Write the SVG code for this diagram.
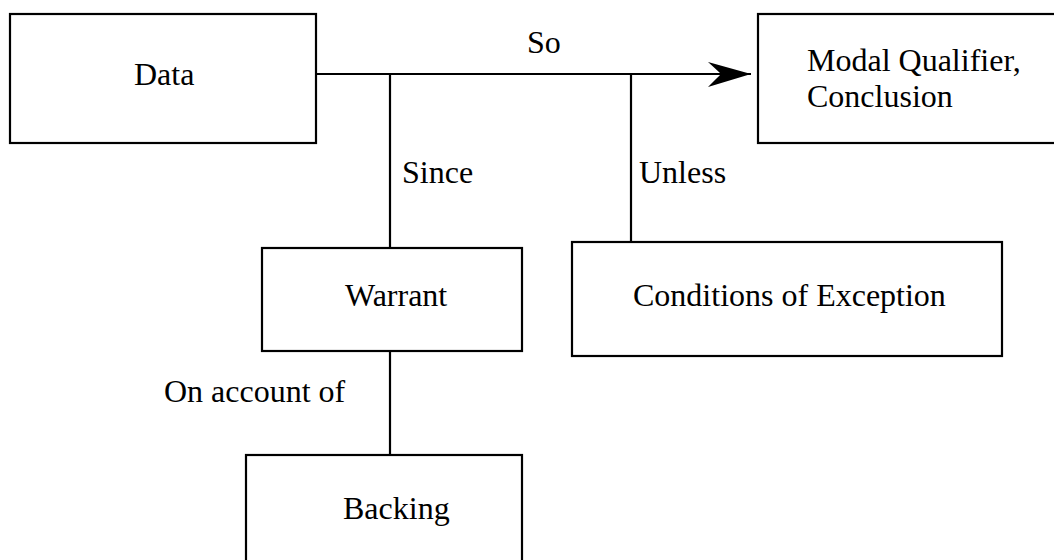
<svg xmlns="http://www.w3.org/2000/svg" width="1054" height="560" viewBox="0 0 1054 560">
<style>
.box{fill:#fff;stroke:#000;stroke-width:2.2}
.ln{fill:none;stroke:#000;stroke-width:2.2}
text{font-family:"Liberation Serif","Times New Roman",serif;font-size:32px;fill:#000}
</style>
<defs>
<marker id="arr" markerUnits="userSpaceOnUse" markerWidth="50" markerHeight="30" refX="43" refY="15" orient="auto">
<path d="M0,3 Q10,12 13,15 Q10,18 0,28 L43,15 Z" fill="#000"/>
</marker>
</defs>
<rect width="1054" height="560" fill="#fff"/>
<g id="connectors">
<path class="ln" d="M316,74 H751" marker-end="url(#arr)"/>
<path class="ln" d="M390,74 V248"/>
<path class="ln" d="M631,74 V242"/>
<path class="ln" d="M390,351 V455"/>
<text x="527" y="53">So</text>
<text x="402" y="183">Since</text>
<text x="639" y="183">Unless</text>
<text x="164" y="402">On account of</text>
</g>
<g id="data">
<rect class="box" x="10" y="14" width="306" height="129"/>
<text x="134" y="85">Data</text>
</g>
<g id="conclusion">
<rect class="box" x="758" y="14" width="310" height="129"/>
<text x="807" y="71">Modal Qualifier,</text>
<text x="807" y="107">Conclusion</text>
</g>
<g id="warrant">
<rect class="box" x="262" y="248" width="260" height="103"/>
<text x="345" y="306">Warrant</text>
</g>
<g id="exception">
<rect class="box" x="572" y="242" width="430" height="114"/>
<text x="633" y="306">Conditions of Exception</text>
</g>
<g id="backing">
<rect class="box" x="246" y="455" width="276" height="120"/>
<text x="343" y="519">Backing</text>
</g>
</svg>
